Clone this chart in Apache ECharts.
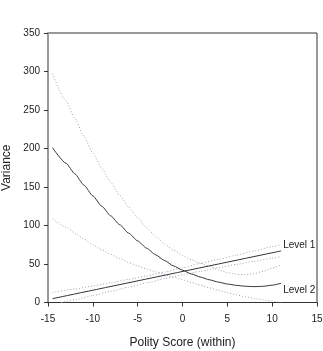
<!DOCTYPE html>
<html>
<head>
<meta charset="utf-8">
<script src="https://cdn.jsdelivr.net/npm/echarts@6/dist/echarts.min.js"></script>
<style>
  html, body { margin: 0; padding: 0; background: #fff; }
  #chart { width: 323px; height: 351px; }
</style>
</head>
<body>
<div id="chart"></div>
<script>
// level 2 (curved) fit and its bands
var xs2 = [-14.5, -13, -12, -11, -10, -9, -8, -7, -6, -5, -4, -3, -2, -1, 0, 1, 2, 3, 4, 5, 6, 7, 8, 9, 10, 11];
var level2 = [201, 181, 167, 152.5, 138.5, 125, 112.5, 101, 90, 80, 70.5, 62, 54.5, 47.5, 42, 37, 33, 29.5, 26.5, 24, 22.3, 21.1, 20.6, 21, 22.5, 25];
var level2Upper = [297, 262, 239, 216, 194, 174, 156, 139, 124, 110, 97, 86, 76, 68, 61, 55.5, 51, 47, 42.5, 38.8, 36.5, 36, 37.5, 40.5, 44.5, 49];
var level2Lower = [109, 98, 90, 82.5, 75, 68.5, 62.5, 57, 52, 47.5, 43.5, 40, 36.5, 33, 29.5, 26, 22.5, 19, 15.8, 12.8, 10, 7.5, 5.3, 3.3, 1.5, 0];

// level 1 (straight) fit and its bands
var xs1 = [-14.5, 11];
var level1 = [5, 67];
var xs1b = [-14.5, -12, -10, -8, -6, -4, -2, 0, 2, 4, 6, 8, 10, 11];
var level1Upper = [13, 17.5, 21.5, 25.5, 30, 34.5, 39.5, 45, 51, 56, 61.5, 67, 72.5, 75.5];
var level1Lower = [-3.5, 3.5, 9, 14.5, 20, 25.5, 31, 36, 40.5, 45, 49.5, 53.5, 57.5, 59.5];

function pairs(xs, ys) {
  return xs.map(function (x, i) { return [x, ys[i]]; });
}

var font = 'Liberation Sans, Arial, sans-serif';
var solid = { color: '#333', width: 1 };
var dotted = { color: '#a0a0b2', width: 1, type: [1, 2] };

function line(name, xs, ys, style, label) {
  var s = {
    name: name,
    type: 'line',
    data: pairs(xs, ys),
    smooth: 0.2,
    smoothMonotone: 'x',
    showSymbol: false,
    symbol: 'none',
    silent: true,
    lineStyle: style
  };
  if (label) {
    s.endLabel = {
      show: true,
      formatter: label.text,
      distance: 2,
      offset: label.offset,
      fontSize: 10,
      fontFamily: font,
      color: '#222'
    };
  }
  return s;
}

var chart = echarts.init(document.getElementById('chart'));
chart.setOption({
  animation: false,
  grid: {
    left: 48, right: 6, top: 33, bottom: 48.5,
    outerBoundsMode: 'none',
    containLabel: false,
    show: true, borderColor: '#333', borderWidth: 1
  },
  xAxis: {
    type: 'value',
    min: -15, max: 15, interval: 5,
    name: 'Polity Score (within)',
    nameLocation: 'middle',
    nameGap: 34,
    nameTextStyle: { fontSize: 12, color: '#222', fontFamily: font },
    splitLine: { show: false },
    axisLine: { onZero: false, lineStyle: { color: '#333', width: 1 } },
    axisTick: { show: true, length: 4, lineStyle: { color: '#333' } },
    axisLabel: { fontSize: 10, color: '#222', margin: 12, fontFamily: font }
  },
  yAxis: {
    type: 'value',
    min: 0, max: 350, interval: 50,
    name: 'Variance',
    nameLocation: 'middle',
    nameGap: 33,
    nameTextStyle: { fontSize: 12, color: '#222', fontFamily: font },
    splitLine: { show: false },
    axisLine: { show: true, onZero: false, lineStyle: { color: '#999', width: 2 } },
    axisTick: { show: true, length: 4, lineStyle: { color: '#333' } },
    axisLabel: { fontSize: 10, color: '#222', margin: 8, fontFamily: font }
  },
  series: [
    line('Level 2 upper', xs2, level2Upper, dotted),
    line('Level 2 lower', xs2, level2Lower, dotted),
    line('Level 1 upper', xs1b, level1Upper, dotted),
    line('Level 1 lower', xs1b, level1Lower, dotted),
    line('Level 2', xs2, level2, solid, { text: 'Level 2', offset: [0, 7] }),
    line('Level 1', xs1, level1, solid, { text: 'Level 1', offset: [0, -6] })
  ]
});
</script>
</body>
</html>
